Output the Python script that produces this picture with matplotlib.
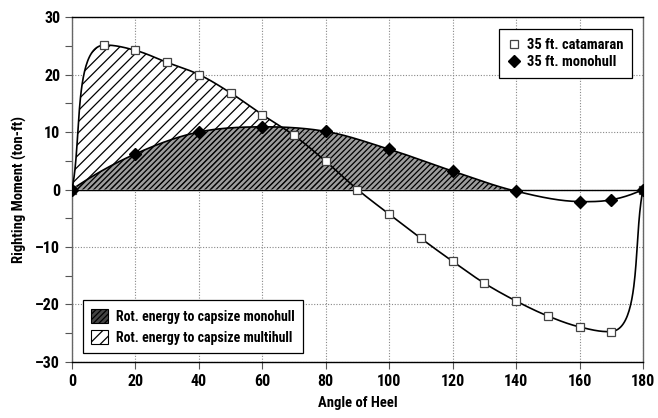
import numpy as np
import matplotlib
matplotlib.use("Agg")
import matplotlib.pyplot as plt
from matplotlib import font_manager
from matplotlib.patches import Patch
from matplotlib.lines import Line2D

# narrow face if the box has one, plain DejaVu otherwise
installed = {f.name for f in font_manager.fontManager.ttflist}
narrow = [n for n in ("Roboto Condensed", "Liberation Sans Narrow", "Open Sans Condensed")
          if n in installed]
plt.rcParams["font.family"] = narrow + ["DejaVu Sans"]
plt.rcParams["font.stretch"] = "condensed"
plt.rcParams["font.weight"] = "bold" if narrow else "normal"
plt.rcParams["axes.labelweight"] = "bold" if narrow else "normal"
FS = 10 if narrow else 8.5
plt.rcParams["hatch.linewidth"] = 0.9

# values
cat_angle = [0, 10, 20, 30, 40, 50, 60, 70, 80, 90, 100, 110, 120, 130, 140, 150, 160, 170, 180]
cat_moment = [0, 25.1, 24.2, 22.1, 20.0, 16.8, 13.0, 9.4, 4.9, 0.0, -4.3, -8.5, -12.5, -16.3,
              -19.4, -22.0, -23.9, -24.7, 0]
mono_angle = [0, 20, 40, 60, 80, 100, 120, 140, 160, 170, 180]
mono_moment = [0, 6.2, 10.0, 10.9, 10.1, 7.0, 3.2, -0.3, -2.1, -1.8, 0]

XSCALE, YSCALE = 3.17, 5.75  # px per data unit, so the smoothing works in screen space


def unit(v):
    return v / np.linalg.norm(v)


def smooth(xs, ys, n=50):
    """Bezier 'smoothed line' through the points, tangents from chord-length Catmull-Rom."""
    p = np.column_stack([np.asarray(xs) * XSCALE, np.asarray(ys) * YSCALE]).astype(float)
    d = np.linalg.norm(np.diff(p, axis=0), axis=1)
    t = np.zeros_like(p)
    for i in range(1, len(p) - 1):
        a, b = d[i - 1], d[i]
        t[i] = unit((p[i] - p[i - 1]) / a * b / (a + b) + (p[i + 1] - p[i]) / b * a / (a + b))
    for end, nxt, chord in ((0, 1, p[1] - p[0]), (-1, -2, p[-1] - p[-2])):
        e = unit(2 * unit(chord) - t[nxt])
        if e[0] < 0.2:
            e = unit(np.array([0.2, np.sign(e[1]) * np.sqrt(1 - 0.04)]))
        t[end] = e
    out = [p[0]]
    s = np.linspace(0, 1, n)[1:, None]
    for i in range(len(p) - 1):
        dx = p[i + 1, 0] - p[i, 0]
        l1 = min(d[i] / 3, 0.95 * dx / max(t[i, 0], 1e-6))
        l2 = min(d[i] / 3, 0.95 * dx / max(t[i + 1, 0], 1e-6))
        c1 = p[i] + t[i] * l1
        c2 = p[i + 1] - t[i + 1] * l2
        seg = ((1 - s) ** 3 * p[i] + 3 * (1 - s) ** 2 * s * c1
               + 3 * (1 - s) * s ** 2 * c2 + s ** 3 * p[i + 1])
        out.extend(seg)
    out = np.array(out)
    return out[:, 0] / XSCALE, out[:, 1] / YSCALE


def positive_part(x, y):
    """Curve from the start up to its first crossing of zero, closed along the axis."""
    idx = np.where((y[1:] < 0) & (y[:-1] >= 0) & (x[1:] > 5))[0][0]
    f = y[idx] / (y[idx] - y[idx + 1])
    xc = x[idx] + f * (x[idx + 1] - x[idx])
    return np.append(x[:idx + 1], xc), np.append(y[:idx + 1], 0)


fig = plt.figure(figsize=(6.58, 4.18), dpi=100)
ax = fig.add_axes([0.1094, 0.134, 0.8678, 0.8253])

cx, cy = smooth(cat_angle, cat_moment)
mx, my = smooth(mono_angle, mono_moment)

fx, fy = positive_part(cx, cy)
ax.fill(fx, fy, facecolor="white", edgecolor="black", hatch="///", linewidth=0, zorder=2)
gx, gy = positive_part(mx, my)
ax.fill(gx, gy, facecolor=(0.3, 0.3, 0.3, 0.55), edgecolor="black", hatch="//////",
        linewidth=0, zorder=3)

ax.axhline(0, color="black", linewidth=1.0, zorder=4)
ax.plot(cx, cy, color="black", linewidth=1.2, zorder=5)
ax.plot(mx, my, color="black", linewidth=1.2, zorder=5)
ax.plot(cat_angle, cat_moment, linestyle="none", marker="s", markersize=6,
        markerfacecolor="white", markeredgecolor="#444444", markeredgewidth=0.9, zorder=6)
ax.plot(mono_angle, mono_moment, linestyle="none", marker="D", markersize=6.5,
        markerfacecolor="black", markeredgecolor="black", zorder=6)

ax.set_xlim(0, 180)
ax.set_ylim(-30, 30)
ax.set_xticks(range(0, 181, 20))
ax.set_yticks(range(-30, 31, 10))
ax.set_yticks(range(-25, 30, 10), minor=True)
ax.set_yticklabels(["\u201330", "\u201320", "\u201310", "0", "10", "20", "30"])
ax.tick_params(axis="both", which="both", direction="out", length=5, width=0.8,
               labelsize=11.5 if narrow else 9, color="#555555")
ax.grid(True, which="major", color="#888888", linestyle=(0, (1, 1.5)), linewidth=0.8, zorder=1)
ax.set_axisbelow(True)
for side in ("top", "bottom"):
    ax.spines[side].set_color("black")
    ax.spines[side].set_linewidth(1.0)
for side in ("left", "right"):
    ax.spines[side].set_color("#666666")
    ax.spines[side].set_linewidth(1.0)

ax.set_xlabel("Angle of Heel", fontsize=FS + 0.5, labelpad=5)
ax.set_ylabel("Righting Moment (ton-ft)", fontsize=FS + 0.5, labelpad=6)

h1 = [Line2D([], [], linestyle="none", marker="s", markersize=6, markerfacecolor="white",
             markeredgecolor="#444444", markeredgewidth=0.9),
      Line2D([], [], linestyle="none", marker="D", markersize=6.5, color="black")]
leg1 = ax.legend(h1, ["35 ft. catamaran", "35 ft. monohull"], loc="upper right",
                 bbox_to_anchor=(0.981, 0.965), borderaxespad=0, fancybox=False,
                 edgecolor="black", framealpha=1, fontsize=FS + 0.5, handlelength=0.8,
                 handletextpad=0.5, labelspacing=0.25, borderpad=0.6)
leg1.get_frame().set_linewidth(0.9)
ax.add_artist(leg1)

h2 = [Patch(facecolor="#444444", edgecolor="black", hatch="//////", linewidth=0.8),
      Patch(facecolor="white", edgecolor="black", hatch="///", linewidth=0.8)]
leg2 = ax.legend(h2, ["Rot. energy to capsize monohull", "Rot. energy to capsize multihull"],
                 loc="lower left", bbox_to_anchor=(0.019, 0.026), borderaxespad=0,
                 fancybox=False, edgecolor="black", framealpha=1, fontsize=FS,
                 handlelength=1.2, handleheight=1.2, handletextpad=0.6, labelspacing=0.45,
                 borderpad=0.6)
leg2.get_frame().set_linewidth(0.9)

fig.savefig("out.png", dpi=100)
